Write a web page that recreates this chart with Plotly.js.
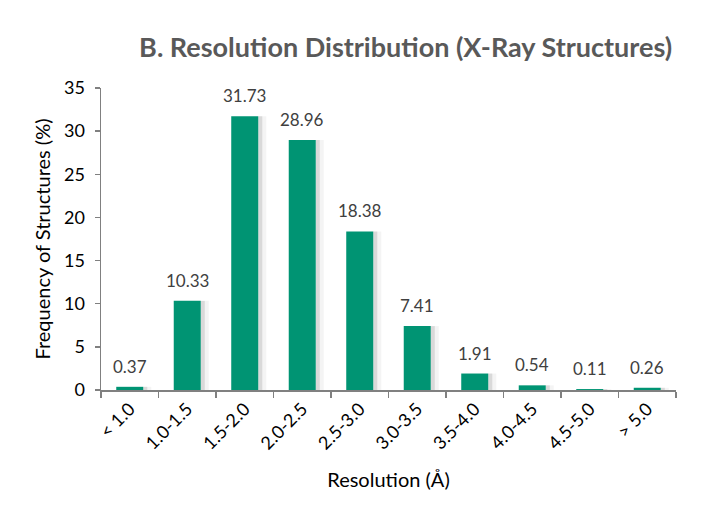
<!DOCTYPE html>
<html>
<head>
<meta charset="utf-8">
<script src="https://cdn.plot.ly/plotly-3.0.1.min.js"></script>
<style>
  html, body { margin: 0; padding: 0; background: #fff; }
  #chart { width: 706px; height: 513px; }
</style>
</head>
<body>
<div id="chart"></div>
<script>
// Resolution bins and share of structures (%)
var categories = ["< 1.0", "1.0-1.5", "1.5-2.0", "2.0-2.5", "2.5-3.0",
                  "3.0-3.5", "3.5-4.0", "4.0-4.5", "4.5-5.0", "> 5.0"];
var frequency = [0.37, 10.33, 31.73, 28.96, 18.38, 7.41, 1.91, 0.54, 0.11, 0.26];
var labels = frequency.map(function (v) { return v.toFixed(2); });

var barColor = "#009473";
var barWidth = 0.47;
var fontFamily = "Lato, 'Open Sans', sans-serif";

// soft shadow on the right side of each bar (two faint layers)
var shadowNear = {
  type: "bar",
  x: categories,
  y: frequency,
  width: 0.07,
  offset: barWidth / 2,
  marker: { color: "rgba(0,0,0,0.11)" },
  hoverinfo: "skip",
  showlegend: false
};
var shadowFar = {
  type: "bar",
  x: categories,
  y: frequency,
  width: 0.14,
  offset: barWidth / 2,
  marker: { color: "rgba(0,0,0,0.045)" },
  hoverinfo: "skip",
  showlegend: false
};

var bars = {
  type: "bar",
  x: categories,
  y: frequency,
  width: barWidth,
  marker: { color: barColor },
  showlegend: false
};

// value labels above each bar
var valueLabels = categories.map(function (c, i) {
  return {
    x: c,
    y: frequency[i],
    xref: "x",
    yref: "y",
    text: labels[i],
    showarrow: false,
    yanchor: "bottom",
    yshift: 8,
    font: { family: fontFamily, size: 17, color: "#404040" }
  };
});

var layout = {
  width: 706,
  height: 513,
  margin: { l: 101, r: 30, t: 88, b: 123 },
  paper_bgcolor: "#fff",
  plot_bgcolor: "#fff",
  barmode: "overlay",
  font: { family: fontFamily, color: "#000" },
  annotations: valueLabels,
  title: {
    text: "<b>B. Resolution Distribution (X-Ray Structures)</b>",
    font: { family: fontFamily, size: 27, color: "#595959" },
    xref: "container",
    x: 0.952,
    xanchor: "right",
    yref: "container",
    y: 0.908,
    yanchor: "middle"
  },
  xaxis: {
    type: "category",
    tickangle: -45,
    tickfont: { family: fontFamily, size: 18, color: "#000" },
    showline: true,
    linecolor: "#808080",
    linewidth: 1.5,
    ticks: "outside",
    tickson: "boundaries",
    ticklen: 6,
    tickcolor: "#808080",
    tickwidth: 1.5,
    showgrid: false,
    title: {
      text: "Resolution (Å)",
      font: { family: fontFamily, size: 20, color: "#000" },
      standoff: 20
    }
  },
  yaxis: {
    range: [0, 35],
    dtick: 5,
    tickfont: { family: fontFamily, size: 18, color: "#000" },
    ticklabelstandoff: 6,
    showline: true,
    linecolor: "#808080",
    linewidth: 1.5,
    ticks: "outside",
    ticklen: 5,
    tickcolor: "#808080",
    tickwidth: 1.5,
    showgrid: false,
    zeroline: false,
    title: {
      text: "Frequency of Structures (%)",
      font: { family: fontFamily, size: 20, color: "#000" },
      standoff: 8
    }
  }
};

Plotly.newPlot("chart", [shadowFar, shadowNear, bars], layout, { displayModeBar: false, staticPlot: true });
</script>
</body>
</html>
